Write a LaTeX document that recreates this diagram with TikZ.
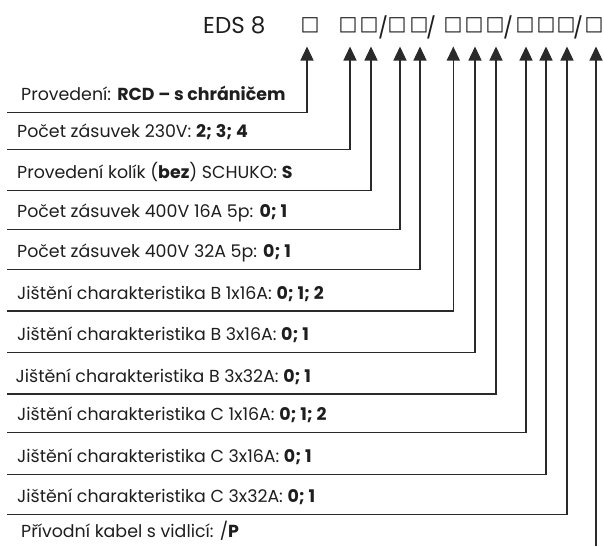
\documentclass[tikz,border=0pt]{standalone}
\usepackage{fontspec}
\setmainfont{Poppins}
\newfontfamily\symfont{DejaVu Sans}
\usetikzlibrary{arrows.meta}
\definecolor{ink}{HTML}{1E1E1E}
\definecolor{wire}{HTML}{2A2A2A}
\newcommand{\boxglyph}{\makebox[11pt]{\symfont □}}
\newcommand{\slashglyph}{\makebox[6pt]{/}}
\begin{document}
\begin{tikzpicture}[x=1pt,y=-1pt,
  conn/.style={draw=wire, line width=1.3pt, -{Triangle[width=13pt,length=14pt]}},
  lbl/.style={anchor=base west, inner sep=0pt, text=ink, font=\fontsize{17.4}{20}\selectfont},
  sq/.style={inner sep=0pt, text=ink, font=\fontsize{20}{20}\selectfont},
  slash/.style={inner sep=0pt, text=ink, font=\fontsize{21}{22}\selectfont},
  title/.style={inner sep=0pt, anchor=base west, text=ink, font=\fontsize{23}{26}\selectfont}
]
\useasboundingbox (0,0) rectangle (604,546);

% header
\node[title] (eds) at (203,33.3) {EDS 8};
\foreach \i/\x in {1/310,2/348,3/369,4/397,5/419,6/453,7/474,8/495,9/525,10/546,11/566,12/594}
  \node[sq] (sq\i) at (\x,25.3) {\boxglyph};
\node[slash] (sl1) at (383,27) {\slashglyph};
\node[slash] (sl2) at (431,27) {\slashglyph};
\node[slash] (sl3) at (508,27) {\slashglyph};
\node[slash] (sl4) at (578,27) {\slashglyph};

% coordinates
\foreach \i/\y/\x in {1/112.3/307,2/149.3/350,3/190.7/371,4/229.3/400,5/269.3/420,6/311/453.3,
                      7/352.7/475,8/394/496,9/432.7/526,10/474.3/546,11/514.3/567,12/546/596}{
  \coordinate (st\i) at (7,\y);
  \coordinate (tip\i) at (\x,46.5);
}
\coordinate (st12) at (596,546);

% labels
\node[lbl] (l1) at (21,100.3) {Provedení: \textbf{RCD – s chráničem}};
\node[lbl] (l2) at (17,137.3) {Počet zásuvek 230V: \textbf{2; 3; 4}};
\node[lbl] (l3) at (17,178.7) {Provedení kolík (\textbf{bez}) SCHUKO: \textbf{S}};
\node[lbl] (l4) at (17,217.3) {Počet zásuvek 400V 16A 5p: \textbf{0; 1}};
\node[lbl] (l5) at (17,257.3) {Počet zásuvek 400V 32A 5p: \textbf{0; 1}};
\node[lbl] (l6) at (17,299) {Jištění charakteristika B 1x16A: \textbf{0; 1; 2}};
\node[lbl] (l7) at (17,340.7) {Jištění charakteristika B 3x16A: \textbf{0; 1}};
\node[lbl] (l8) at (15.5,382) {Jištění charakteristika B 3x32A: \textbf{0; 1}};
\node[lbl] (l9) at (17,420.7) {Jištění charakteristika C 1x16A: \textbf{0; 1; 2}};
\node[lbl] (l10) at (17,462.3) {Jištění charakteristika C 3x16A: \textbf{0; 1}};
\node[lbl] (l11) at (17,502.3) {Jištění charakteristika C 3x32A: \textbf{0; 1}};
\node[lbl] (l12) at (21,537.7) {Přívodní kabel s vidlicí: /\textbf{P}};

% connectors
\foreach \i in {1,...,11}
  \draw[conn] (st\i) -| (tip\i);
\draw[conn] (st12) -- (tip12);
\end{tikzpicture}
\end{document}
